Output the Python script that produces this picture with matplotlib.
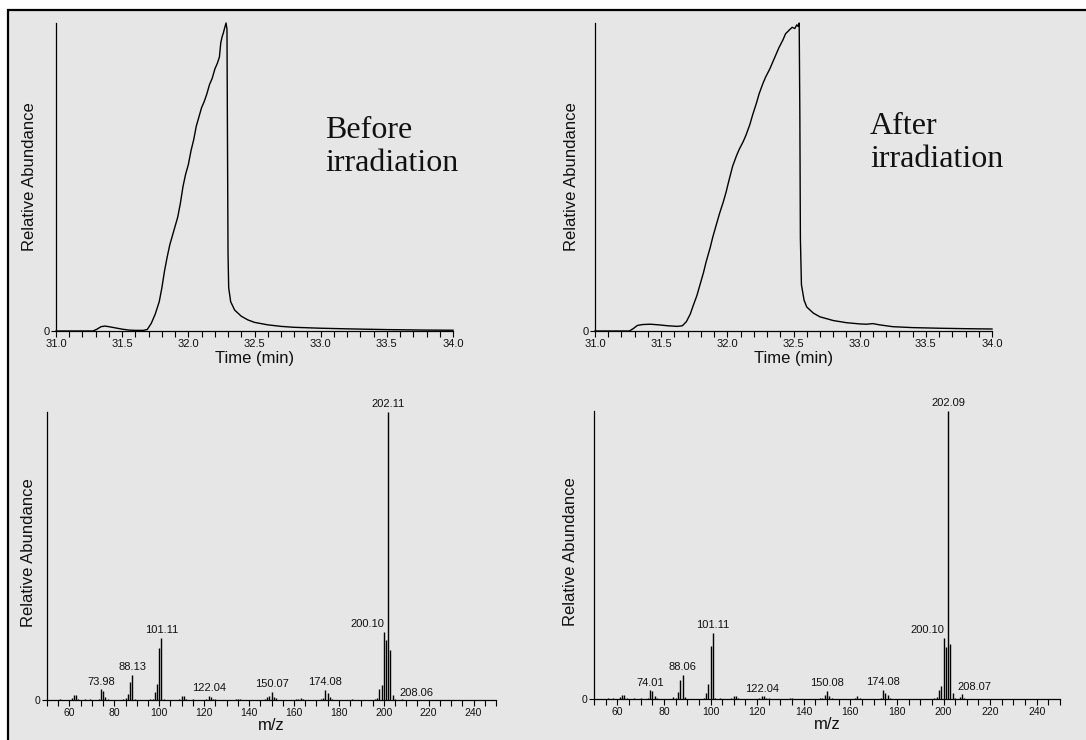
import matplotlib
matplotlib.use("Agg")
import matplotlib.pyplot as plt
from matplotlib.patches import Rectangle
from matplotlib.ticker import MultipleLocator, FormatStrFormatter

plt.rcParams['font.family'] = ['Liberation Sans', 'DejaVu Sans']

# ---------------- data ----------------
# Total ion chromatogram, before irradiation (time in min, relative abundance %)
before_time = [31.00, 31.28, 31.31, 31.34, 31.37, 31.40, 31.45, 31.50, 31.55, 31.60,
               31.66, 31.69, 31.72, 31.75, 31.78, 31.80, 31.82, 31.84, 31.86, 31.88,
               31.90, 31.92, 31.94, 31.96, 31.98, 32.00, 32.02, 32.04, 32.06, 32.08,
               32.10, 32.12, 32.14, 32.16, 32.18, 32.20, 32.22, 32.235, 32.245, 32.255,
               32.265, 32.275, 32.285, 32.292, 32.296, 32.300, 32.305, 32.32, 32.35, 32.40,
               32.45, 32.50, 32.60, 32.70, 32.80, 33.00, 33.20, 33.50, 33.80, 34.00]
before_abund = [0.0, 0.0, 0.6, 1.4, 1.6, 1.4, 1.0, 0.6, 0.3, 0.2,
                0.2, 0.5, 2.5, 5.5, 9.5, 14.0, 19.5, 24.0, 28.0, 31.0,
                34.0, 37.0, 41.5, 47.0, 51.0, 54.0, 58.5, 62.0, 66.5, 69.5,
                72.5, 74.5, 77.0, 80.0, 82.0, 85.0, 87.0, 89.0, 93.5, 95.5,
                96.8, 98.5, 100.0, 98.0, 60.0, 25.0, 14.0, 9.5, 6.8, 4.8,
                3.6, 2.8, 2.0, 1.5, 1.2, 0.9, 0.7, 0.45, 0.3, 0.25]

# Total ion chromatogram, after irradiation
after_time = [31.00, 31.26, 31.29, 31.32, 31.36, 31.42, 31.48, 31.55, 31.62, 31.66,
              31.69, 31.72, 31.74, 31.77, 31.79, 31.82, 31.84, 31.87, 31.89, 31.92,
              31.94, 31.97, 31.99, 32.01, 32.04, 32.07, 32.09, 32.12, 32.14, 32.17,
              32.19, 32.22, 32.24, 32.27, 32.29, 32.32, 32.34, 32.37, 32.39, 32.42,
              32.44, 32.47, 32.49, 32.51, 32.525, 32.535, 32.543, 32.548, 32.552, 32.56,
              32.58, 32.60, 32.65, 32.70, 32.80, 32.90, 33.00, 33.05, 33.10, 33.15,
              33.25, 33.40, 33.60, 33.80, 34.00]
after_abund = [0.0, 0.0, 0.8, 1.8, 2.1, 2.2, 2.0, 1.7, 1.5, 1.7,
               3.0, 5.5, 8.0, 11.5, 14.5, 19.0, 22.5, 27.0, 30.5, 35.0,
               38.0, 42.0, 45.0, 48.5, 53.5, 57.0, 59.0, 61.5, 63.5, 67.0,
               70.0, 74.0, 77.0, 80.5, 82.5, 85.0, 87.0, 90.0, 92.0, 94.5,
               96.5, 97.8, 98.6, 98.2, 99.4, 98.9, 100.0, 70.0, 30.0, 15.0,
               10.0, 7.8, 5.8, 4.6, 3.4, 2.7, 2.3, 2.2, 2.4, 2.0,
               1.4, 1.1, 0.9, 0.75, 0.65]

# Mass spectrum, before irradiation (m/z, relative abundance %)
before_mz = [56, 61, 62, 63, 64, 67, 69, 73, 74, 75, 76, 77, 84, 85, 86, 87, 88, 89,
             96, 97, 98, 99, 100, 101, 102, 109, 110, 111, 112, 115, 121, 122, 123, 124,
             125, 134, 135, 136, 147, 148, 149, 150, 151, 152, 161, 162, 163, 164, 172,
             173, 174, 175, 176, 177, 186, 196, 197, 198, 199, 200, 201, 202, 203, 204,
             205, 208]
before_int = [0.3, 0.6, 1.7, 1.8, 0.3, 0.4, 0.2, 0.4, 3.7, 3.2, 1.0, 0.3, 0.3, 0.6, 2.0, 6.1, 8.6, 0.4,
              0.3, 0.4, 2.7, 5.4, 17.9, 21.6, 0.4, 0.4, 1.4, 1.3, 0.3, 0.3, 0.4, 1.4, 0.9, 0.4,
              0.3, 0.3, 0.4, 0.3, 0.4, 0.9, 1.5, 2.9, 1.2, 0.6, 0.3, 0.5, 0.6, 0.3, 0.3,
              0.7, 3.5, 2.3, 1.2, 0.3, 0.2, 0.3, 0.6, 3.7, 5.2, 23.7, 20.8, 100.0, 17.3, 1.7,
              0.3, 0.3]
before_labels = ["73.98", "88.13", "101.11", "122.04", "150.07", "174.08", "200.10", "202.11", "208.06"]
before_label_mz = [74, 88, 101, 122, 150, 174, 200, 202, 208]

# Mass spectrum, after irradiation
after_mz = [56, 58, 61, 62, 63, 64, 67, 70, 73, 74, 75, 76, 77, 84, 85, 86, 87, 88, 89,
            97, 98, 99, 100, 101, 102, 104, 109, 110, 111, 112, 121, 122, 123, 124, 125,
            134, 135, 147, 148, 149, 150, 151, 152, 162, 163, 164, 173, 174, 175, 176, 177,
            196, 197, 198, 199, 200, 201, 202, 203, 204, 205, 207, 208, 209]
after_int = [0.3, 0.2, 0.6, 1.5, 1.5, 0.3, 0.4, 0.2, 0.5, 3.0, 2.7, 1.0, 0.3, 0.8, 0.4, 2.3, 6.5, 8.4, 0.6,
             0.3, 2.1, 5.3, 18.5, 22.9, 0.4, 0.3, 0.3, 0.9, 0.9, 0.3, 0.3, 0.9, 0.9, 0.5, 0.5,
             0.4, 0.4, 0.3, 0.5, 1.5, 2.9, 1.2, 0.5, 0.5, 0.9, 0.3, 0.5, 3.2, 2.1, 1.5, 0.4,
             0.3, 0.7, 3.2, 4.6, 21.2, 18.0, 100.0, 19.2, 2.1, 0.5, 0.8, 1.8, 0.5]
after_labels = ["74.01", "88.06", "101.11", "122.04", "150.08", "174.08", "200.10", "202.09", "208.07"]
after_label_mz = [74, 88, 101, 122, 150, 174, 200, 202, 208]

# ---------------- figure ----------------
W, H = 1086, 740
fig = plt.figure(figsize=(W / 100, H / 100), dpi=100)
fig.patch.set_facecolor('white')

# grey panel with black frame (top and left edges visible)
fig.add_artist(Rectangle((8 / W, -0.2), 1.5, 1 - 10 / H + 0.2, transform=fig.transFigure,
                         facecolor='#e6e6e6', edgecolor='black', lw=1.6, zorder=-5))

TXT = '#111111'


def px_axes(l, t, r, b):
    return fig.add_axes([l / W, 1 - b / H, (r - l) / W, (b - t) / H])


def style(ax, xlim, major, minor, fmt, ticksize):
    ax.patch.set_visible(False)
    ax.set_xlim(*xlim)
    ax.set_ylim(0, 100)
    for s in ('top', 'right'):
        ax.spines[s].set_visible(False)
    for s in ('left', 'bottom'):
        ax.spines[s].set_linewidth(0.9)
        ax.spines[s].set_color('black')
    ax.xaxis.set_major_locator(MultipleLocator(major))
    ax.xaxis.set_minor_locator(MultipleLocator(minor))
    ax.xaxis.set_major_formatter(FormatStrFormatter(fmt))
    ax.tick_params(axis='x', which='both', direction='out', length=4.5, width=0.8,
                   labelsize=ticksize, pad=1.5, colors='black', labelcolor=TXT)
    ax.set_yticks([0])
    ax.set_yticklabels(['0'])
    ax.tick_params(axis='y', direction='out', length=3.5, width=0.8, labelsize=ticksize,
                   pad=1, labelcolor=TXT)
    ax.set_ylabel('Relative Abundance', fontsize=12, color=TXT)
    ax.yaxis.label.set_va('center')


# top-left chromatogram
ax1 = px_axes(56, 23, 453, 331)
style(ax1, (31.0, 34.0), 0.5, 0.1, '%.1f', 8)
ax1.plot(before_time, before_abund, color='black', lw=1.0, clip_on=False)
ax1.set_xlabel('Time (min)', fontsize=12, color=TXT, labelpad=1)
ax1.yaxis.set_label_coords(-0.068, 0.5)
fig.text(325 / W, 1 - 116 / H, 'Before\nirradiation', family=['Liberation Serif'],
         fontsize=23, va='top', ha='left', color=TXT, linespacing=1.2)

# top-right chromatogram
ax2 = px_axes(595, 23, 992, 331)
style(ax2, (31.0, 34.0), 0.5, 0.1, '%.1f', 8)
ax2.plot(after_time, after_abund, color='black', lw=1.0, clip_on=False)
ax2.set_xlabel('Time (min)', fontsize=12, color=TXT, labelpad=1)
ax2.yaxis.set_label_coords(-0.060, 0.5)
fig.text(870 / W, 1 - 112 / H, 'After\nirradiation', family=['Liberation Serif'],
         fontsize=23, va='top', ha='left', color=TXT, linespacing=1.2)


def spectrum(ax, mz, inten, labels, label_mz, xoff_208):
    ax.vlines(mz, 0, inten, color='black', lw=1.0)
    lookup = dict(zip(mz, inten))
    for txt, m in zip(labels, label_mz):
        y = lookup.get(m, 0)
        if m == 200:
            ax.annotate(txt, xy=(m, y), xytext=(0.5, 2), textcoords='offset points',
                        ha='right', va='bottom', fontsize=8, color=TXT)
        elif m == 208:
            ax.annotate(txt, xy=(m, y), xytext=(xoff_208, 1), textcoords='offset points',
                        ha='left', va='bottom', fontsize=8, color=TXT)
        else:
            ax.annotate(txt, xy=(m, y), xytext=(0, 2), textcoords='offset points',
                        ha='center', va='bottom', fontsize=8, color=TXT)
    ax.set_xlabel('m/z', fontsize=12, color=TXT, labelpad=0)


# bottom-left spectrum
ax3 = px_axes(47, 412, 496, 700)
style(ax3, (50, 250), 20, 5, '%d', 7.5)
spectrum(ax3, before_mz, before_int, before_labels, before_label_mz, -1.5)
ax3.yaxis.set_label_coords(-0.042, 0.51)

# bottom-right spectrum
ax4 = px_axes(594, 411, 1060, 699)
style(ax4, (50, 250), 20, 5, '%d', 7.5)
spectrum(ax4, after_mz, after_int, after_labels, after_label_mz, -3.5)
ax4.yaxis.set_label_coords(-0.0515, 0.51)

fig.savefig('out.png', dpi=100, facecolor=fig.get_facecolor())
